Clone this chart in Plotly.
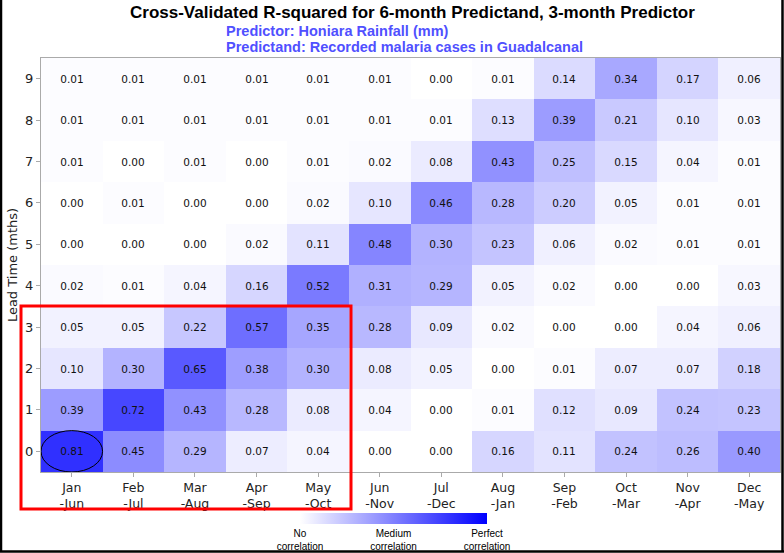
import plotly.graph_objects as go

seasons = ["Jan<br>-Jun", "Feb<br>-Jul", "Mar<br>-Aug", "Apr<br>-Sep", "May<br>-Oct", "Jun<br>-Nov",
           "Jul<br>-Dec", "Aug<br>-Jan", "Sep<br>-Feb", "Oct<br>-Mar", "Nov<br>-Apr", "Dec<br>-May"]
lead_times = [0, 1, 2, 3, 4, 5, 6, 7, 8, 9]

lead0 = [0.81, 0.45, 0.29, 0.07, 0.04, 0.00, 0.00, 0.16, 0.11, 0.24, 0.26, 0.40]
lead1 = [0.39, 0.72, 0.43, 0.28, 0.08, 0.04, 0.00, 0.01, 0.12, 0.09, 0.24, 0.23]
lead2 = [0.10, 0.30, 0.65, 0.38, 0.30, 0.08, 0.05, 0.00, 0.01, 0.07, 0.07, 0.18]
lead3 = [0.05, 0.05, 0.22, 0.57, 0.35, 0.28, 0.09, 0.02, 0.00, 0.00, 0.04, 0.06]
lead4 = [0.02, 0.01, 0.04, 0.16, 0.52, 0.31, 0.29, 0.05, 0.02, 0.00, 0.00, 0.03]
lead5 = [0.00, 0.00, 0.00, 0.02, 0.11, 0.48, 0.30, 0.23, 0.06, 0.02, 0.01, 0.01]
lead6 = [0.00, 0.01, 0.00, 0.00, 0.02, 0.10, 0.46, 0.28, 0.20, 0.05, 0.01, 0.01]
lead7 = [0.01, 0.00, 0.01, 0.00, 0.01, 0.02, 0.08, 0.43, 0.25, 0.15, 0.04, 0.01]
lead8 = [0.01, 0.01, 0.01, 0.01, 0.01, 0.01, 0.01, 0.13, 0.39, 0.21, 0.10, 0.03]
lead9 = [0.01, 0.01, 0.01, 0.01, 0.01, 0.01, 0.00, 0.01, 0.14, 0.34, 0.17, 0.06]

z = [lead0, lead1, lead2, lead3, lead4, lead5, lead6, lead7, lead8, lead9]
text = [[f"{v:.2f}" for v in row] for row in z]

cbar_vals = [0, 0.5, 1]
cbar_text = ["No<br>correlation", "Medium<br>correlation", "Perfect<br>correlation"]

W, H = 784, 553
L, R, T, B = 41, 4, 58, 81
pw, ph = W - L - R, H - T - B

def px(x):
    return (x - L) / pw

def py(y):
    return (H - B - y) / ph

fig = go.Figure(go.Heatmap(
    z=z, x=list(range(len(seasons))), y=lead_times,
    text=text, texttemplate="%{text}",
    textfont=dict(family="DejaVu Sans, Verdana", size=10.5, color="#111111"),
    colorscale=[[0, "rgb(255,255,255)"], [1, "rgb(0,0,255)"]],
    zmin=0, zmax=1,
    colorbar=dict(
        orientation="h", lenmode="pixels", len=187, thickness=11,
        x=px(393.5), xanchor="center", y=py(513), yanchor="top",
        tickvals=cbar_vals, ticktext=cbar_text, ticks="", outlinewidth=0,
        tickfont=dict(family="Liberation Sans, Arial", size=10, color="black"),
        ypad=0, xpad=0,
    ),
))

fig.update_xaxes(
    tickvals=list(range(len(seasons))), ticktext=seasons, range=[-0.5, 11.5],
    showline=True, linecolor="#aaaaaa", linewidth=1, mirror=True,
    ticks="outside", ticklen=4, tickcolor="#aaaaaa",
    tickfont=dict(family="DejaVu Sans, Verdana", size=12.5, color="#222222"),
    showgrid=False, zeroline=False, automargin=False,
)
fig.update_yaxes(
    tickvals=lead_times, range=[-0.5, 9.5],
    showline=True, linecolor="#aaaaaa", linewidth=1, mirror=True,
    ticks="outside", ticklen=4, tickcolor="#aaaaaa",
    tickfont=dict(family="DejaVu Sans, Verdana", size=13, color="#222222"),
    title=dict(text="Lead Time (mths)", font=dict(family="DejaVu Sans, Verdana", size=13, color="#222222"), standoff=4),
    showgrid=False, zeroline=False, automargin=False,
)

boldfont = "Liberation Sans, Arial"
annotations = [
    dict(text="<b>Cross-Validated R-squared for 6-month Predictand, 3-month Predictor</b>",
         x=px(412), y=py(13), xref="paper", yref="paper", xanchor="center", yanchor="middle",
         showarrow=False, font=dict(family=boldfont, size=17, color="black")),
    dict(text="<b>Predictor: Honiara Rainfall (mm)</b>",
         x=px(224), y=py(31), xref="paper", yref="paper", xanchor="left", yanchor="middle",
         showarrow=False, font=dict(family=boldfont, size=14.5, color="rgb(80,80,255)")),
    dict(text="<b>Predictand: Recorded malaria cases in Guadalcanal</b>",
         x=px(224), y=py(47), xref="paper", yref="paper", xanchor="left", yanchor="middle",
         showarrow=False, font=dict(family=boldfont, size=14.5, color="rgb(80,80,255)")),
]

shapes = [
    # highlight box
    dict(type="rect", xref="paper", yref="paper", x0=px(21), x1=px(351), y0=py(509), y1=py(306),
         line=dict(color="red", width=3)),
    # circle around best cell
    dict(type="circle", xref="x", yref="y", x0=-0.5, x1=0.5, y0=-0.5, y1=0.5,
         line=dict(color="black", width=1)),
    # outer frame (left, right, bottom)
    dict(type="line", xref="paper", yref="paper", x0=px(1), x1=px(1), y0=py(0), y1=py(552),
         line=dict(color="black", width=2.5)),
    dict(type="line", xref="paper", yref="paper", x0=px(782.5), x1=px(782.5), y0=py(0), y1=py(552),
         line=dict(color="black", width=2.5)),
    dict(type="line", xref="paper", yref="paper", x0=px(0), x1=px(784), y0=py(551.5), y1=py(551.5),
         line=dict(color="black", width=2.5)),
]

fig.update_layout(
    width=W, height=H,
    margin=dict(l=L, r=R, t=T, b=B, pad=0, autoexpand=False),
    paper_bgcolor="white", plot_bgcolor="white",
    annotations=annotations, shapes=shapes,
    font=dict(family="DejaVu Sans"),
)

fig.write_html(
    "out.html",
    config={"displayModeBar": False},
    post_script="document.body.style.margin='0';document.body.style.overflow='hidden';",
)
